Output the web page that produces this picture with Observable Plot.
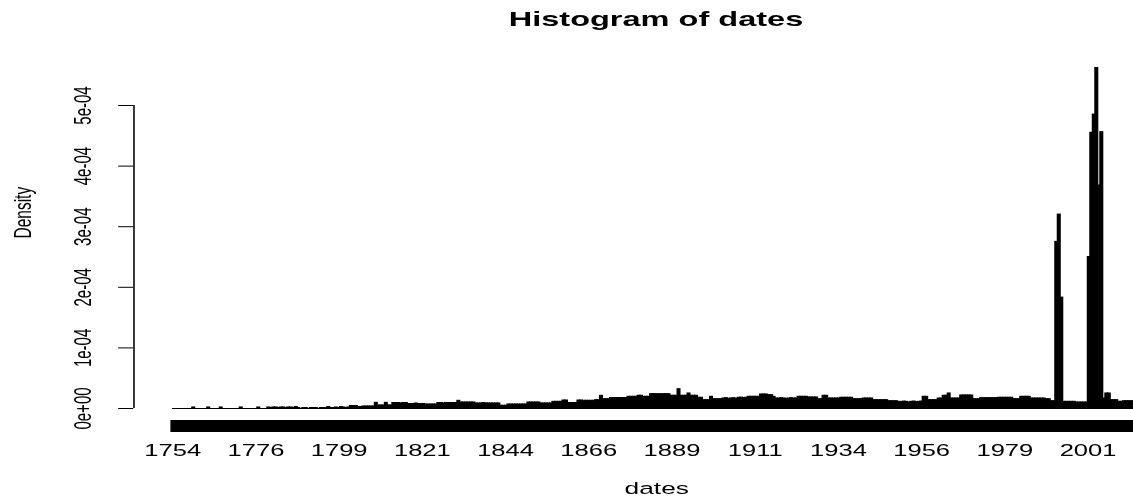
<!DOCTYPE html>
<html><head><meta charset="utf-8">
<script src="https://cdn.jsdelivr.net/npm/d3@7"></script>
<script src="https://cdn.jsdelivr.net/npm/@observablehq/plot@0.6"></script>
<style>
html,body{margin:0;padding:0;background:#fff;overflow:hidden;width:1133px;height:500px}
#wrap{position:relative;width:761px;height:500px;transform:scaleX(1.549);transform-origin:0 0;font-family:"Liberation Sans",Arial,sans-serif}
#title{position:absolute;left:0;top:8px;width:847px;text-align:center;font-weight:bold;font-size:21px;line-height:21px;color:#000}
#chart{position:absolute;left:0;top:0}
</style></head><body>
<div id="wrap"><div id="chart"></div><div id="title">Histogram of dates</div></div>
<script>
// histogram bins: first break (year) and bin width (years)
const firstBreak = 1754;
const binWidthYears = 0.6764;
// density of each bin, in units of 1e-6
const densityMicro = [
0,0,0,0,0,0,0,0,1.7,0,
0,0,0,0,1.7,0,0,0,0,1.7,
0,0,0,0,0,0,0,1.7,0,0,
0,0,0,0,1.7,0,0,0,1.7,0.8,
1.7,1.7,0.8,1.7,1.7,0.8,1.7,1.7,0.8,2.5,
0.8,0,0.8,0.8,0,0.8,0.8,0.8,0,0.8,
0.8,0.8,2.5,0.8,0.8,1.7,0.8,2.5,1.7,0.8,
1.7,4.1,4.1,4.1,2.5,2.5,3.3,3.3,3.3,3.3,
3.3,9.4,5,5,5,9.4,5,5,9.1,9.1,
9.1,8.3,9.1,9.1,7.4,7.4,7.4,8.3,7.4,7.4,
7.4,6.6,6.6,6.6,6.6,6.6,9.1,9.1,8.3,9.1,
9.1,9.1,9.1,9.1,12.7,9.9,9.9,9.9,9.9,9.9,
9.9,8.3,8.3,8.3,9.1,8.3,8.3,8.3,8.3,8.3,
8.3,4.5,4.5,4.5,6.6,6.6,6.6,6.6,6.6,6.6,
6.6,6.6,9.9,9.9,9.9,9.9,9.9,8.3,8.3,8.3,
8.3,8.3,11,11,11,11,13.2,13.2,9.1,9.1,
9.1,9.1,13.2,13.2,12.7,12.7,12.7,12.7,12.7,13.7,
13.7,21,15.3,15.3,15.3,17.3,17.3,17.3,17.3,17.3,
17.3,17.3,19.3,19.3,19.3,19.3,21,21,19.3,19.3,
19.3,23.6,23.6,23.6,23.6,23.6,23.6,23.6,23.6,21,
21,21,31.8,21,21,21,24.8,21,21,21,
17.7,17.7,13.7,13.7,13.7,19.3,15.3,15.3,15.3,15.3,
16.5,17,16,16.5,17,16,17.7,18,17.2,17.7,
19.3,19.3,19.3,19.3,19.3,23.1,23.1,23.1,22,22,
19.3,16.5,16.5,17,16.5,16,16.5,17,16.5,16.5,
19.3,19.3,19.3,19.3,18.2,18.2,18.2,18.2,15.3,15.3,
21,21,16.5,16.5,16.5,16.5,16.5,17.7,17.7,17.7,
17.7,17.7,15.3,15.3,15.3,15.3,16.5,16.5,16.5,16.5,
13.7,13.7,13.7,13.7,13.7,13.7,12,12,12,12,
11,10.5,11.5,11,10,11,11.5,10.5,11,11.5,
19.3,19.3,13.7,13.7,13.7,13.7,16.5,16.5,21,21,
24.8,16.5,16.5,16.5,16.5,21.5,21.5,21.5,21.5,21.5,
15.3,15.3,15.3,17,17,17,17,17,17,17,
17.7,17.7,17.7,17.7,17.7,17.7,15.3,15.3,15.3,19.3,
19.3,19.3,19.3,16.5,16.5,16.5,16.5,16.5,16.5,15.3,
15.3,12,12,275,320,183,11,11,11,11,
11,9.9,9.9,9.9,9.9,9.9,250,455,485,562,
368,456,16.5,24.8,24.8,13.7,13.7,13.7,11,11,
12,12,12,12,12,12,11
];
const yTicks = [0, 1e-4, 2e-4, 3e-4, 4e-4, 5e-4];
const yTickLabels = ["0e+00", "1e-04", "2e-04", "3e-04", "4e-04", "5e-04"];
const xTickYears = [1754, 1776.5, 1799, 1821.5, 1844, 1866.5, 1889, 1911.5, 1934, 1956.5, 1979, 2001.5];
const xTickLabels = ["1754", "1776", "1799", "1821", "1844", "1866", "1889", "1911", "1934", "1956", "1979", "2001"];
const titleText = "Histogram of dates";
const xLabel = "dates";
const yLabel = "Density";

const breaks = d3.range(densityMicro.length + 1).map(i => firstBreak + i * binWidthYears);
const bins = densityMicro.map((v, i) => ({x1: breaks[i], x2: breaks[i + 1], density: v * 1e-6}));
const xStart = breaks[0], xEnd = breaks[breaks.length - 1];
const pad = 0.04 * (xEnd - xStart);

document.getElementById("title").textContent = titleText;

const chart = Plot.plot({
  width: 761, height: 500,
  marginLeft: 86, marginRight: 0, marginTop: 105, marginBottom: 92,
  style: {fontFamily: '"Liberation Sans", Arial, sans-serif', background: "transparent", color: "black", overflow: "visible"},
  x: {domain: [xStart - pad, xEnd + pad]},
  y: {domain: [0, 5e-4]},
  marks: [
    Plot.rectY(bins, {x1: "x1", x2: "x2", y: "density", fill: "black", stroke: "black", strokeWidth: 1}),
    Plot.ruleY([0], {x1: xStart, x2: xEnd, stroke: "black"}),
    Plot.axisX(breaks, {tickSize: 12, dy: 12, fill: "none", strokeWidth: 3}),
    Plot.text(xTickYears, {x: d => d, text: (d, i) => xTickLabels[i], frameAnchor: "bottom", dy: 42, lineAnchor: "middle", fontSize: 16.5}),
    Plot.ruleX([xStart - pad], {y1: 0, y2: 5e-4, stroke: "black"}),
    Plot.axisY(yTicks, {tickSize: 9.7, fill: "none"}),
    Plot.text(yTicks, {y: d => d, text: (d, i) => yTickLabels[i], frameAnchor: "left", dx: -32.3, rotate: -90, textAnchor: "middle", lineAnchor: "middle", fontSize: 15}),
    Plot.text([yLabel], {text: d => d, frameAnchor: "left", dx: -71.5, dy: -18.5, rotate: -90, fontSize: 15.5, lineAnchor: "middle"}),
    Plot.text([xLabel], {text: d => d, frameAnchor: "bottom", dy: 80, fontSize: 17, lineAnchor: "middle"})
  ]
});
document.getElementById("chart").appendChild(chart);
</script>
</body></html>
